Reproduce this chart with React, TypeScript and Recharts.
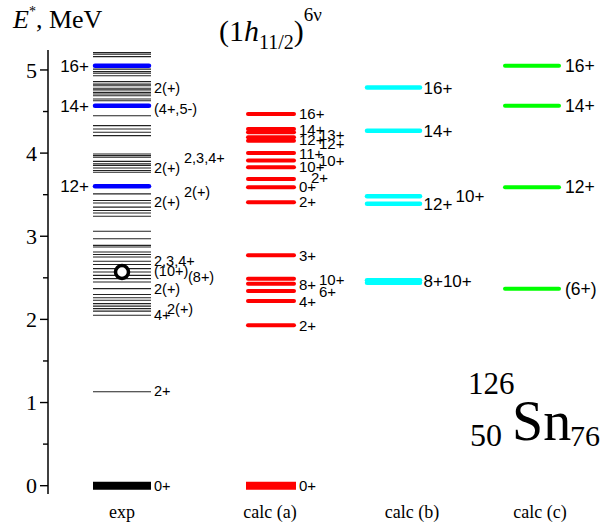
import { ScatterChart, Scatter, XAxis, YAxis } from "recharts";

// column names and where they sit on the x scale
const columns = ["exp", "calc (a)", "calc (b)", "calc (c)"];
const columnLabelPos = [0.74, 2.22, 3.64, 4.92];
const columnPos = [0.74, 2.23, 3.455, 4.84];

// experimental levels, MeV
const expLevels = [
  5.21, 5.19, 5.16, 5.01, 4.98, 4.96, 4.93, 4.86, 4.83, 4.81, 4.78, 4.76, 4.73,
  4.71, 4.69, 4.65, 4.63, 4.45, 4.33, 4.29, 4.25, 4.21, 3.99, 3.97, 3.95, 3.9,
  3.87, 3.85, 3.82, 3.79, 3.77, 3.51, 3.43, 3.4, 3.35, 3.31, 3.28, 3.24, 3.06,
  2.97, 2.89, 2.87, 2.81, 2.78, 2.75, 2.7, 2.66, 2.61, 2.57, 2.53, 2.49, 2.45,
  2.37, 2.3, 2.26, 2.23, 2.19, 2.16, 2.13, 2.1, 2.05, 1.13,
];
const expBand = [5.05, 4.57, 3.6];
const expBandLabels = ["16+", "14+", "12+"];
const expGround = [0];
const expIsomer = [2.57];
// [text, energy, slot]
const expLabels: [string, number, number][] = [
  ["2(+)", 4.79, 0],
  ["(4+,5-)", 4.53, 0],
  ["2(+)", 3.82, 0],
  ["2,3,4+", 3.94, 3],
  ["2(+)", 3.42, 0],
  ["2(+)", 3.53, 3],
  ["2,3,4+", 2.71, 0],
  ["(10+)", 2.58, 0],
  ["(8+)", 2.51, 2],
  ["2(+)", 2.37, 0],
  ["4+", 2.05, 0],
  ["2(+)", 2.13, 1],
  ["2+", 1.14, 0],
  ["0+", 0, 0],
];

// calc (a)
const calcA = [4.47, 4.29, 4.25, 4.19, 4.15, 4.0, 3.91, 3.83, 3.69, 3.59, 3.41, 2.77, 2.49, 2.43, 2.34, 2.22, 1.93];
const calcAGround = [0];
const calcALabels: [string, number, number][] = [
  ["16+", 4.47, 0],
  ["14+", 4.28, 0],
  ["13+", 4.22, 2],
  ["12+", 4.16, 0],
  ["12+", 4.11, 2],
  ["11+", 4.0, 0],
  ["10+", 3.91, 2],
  ["10+", 3.84, 0],
  ["2+", 3.7, 1],
  ["0+", 3.6, 0],
  ["2+", 3.42, 0],
  ["3+", 2.77, 0],
  ["10+", 2.48, 2],
  ["8+", 2.42, 0],
  ["6+", 2.34, 2],
  ["4+", 2.22, 0],
  ["2+", 1.93, 0],
  ["0+", 0, 0],
];

// calc (b)
const calcB = [4.79, 4.27, 3.48, 3.39, 2.47, 2.44];
const calcBLabels: [string, number, number][] = [
  ["16+", 4.79, 0],
  ["14+", 4.27, 0],
  ["12+", 3.39, 0],
  ["10+", 3.49, 1],
  ["8+10+", 2.46, 0],
];

// calc (c)
const calcC = [5.05, 4.57, 3.59, 2.37];
const calcCLabels: [string, number, number][] = [
  ["16+", 5.05, 0],
  ["14+", 4.57, 0],
  ["12+", 3.59, 0],
  ["(6+)", 2.37, 0],
];

const yTicks = [0, 0.5, 1, 1.5, 2, 2.5, 3, 3.5, 4, 4.5, 5];

const SANS = "'Liberation Sans', Arial, sans-serif";
const SERIF = "'Liberation Serif', 'Times New Roman', serif";

const pts = (col: number, es: number[]) => es.map((e) => ({ x: columnPos[col], e }));
const lbls = (col: number, ls: [string, number, number][]) =>
  ls.map(([t, e, s]) => ({ x: columnPos[col], e, t, s }));

const level =
  (half: number, color: string, width: number, cap: "round" | "butt" = "round") =>
  (p: any) => (
    <line
      x1={p.cx - half}
      x2={p.cx + half}
      y1={p.cy}
      y2={p.cy}
      stroke={color}
      strokeWidth={width}
      strokeLinecap={cap}
    />
  );

const label =
  (slots: number[], size: number, anchor: "start" | "end" = "start") =>
  (p: any) => (
    <text
      x={p.cx + slots[p.payload.s]}
      y={p.cy}
      dy="0.36em"
      textAnchor={anchor}
      fontFamily={SANS}
      fontSize={size}
      fill="#000"
    >
      {p.payload.t}
    </text>
  );

const YTick = (p: any) => {
  const v = p.payload.value;
  const major = Number.isInteger(v);
  return (
    <g>
      <line x1={p.x - (major ? 8 : 5)} x2={p.x} y1={p.y} y2={p.y} stroke="#000" strokeWidth={1.4} />
      {major && (
        <text x={p.x - 11} y={p.y} dy="0.35em" textAnchor="end" fontFamily={SERIF} fontSize={22} fill="#000">
          {v}
        </text>
      )}
    </g>
  );
};

const XTick = (p: any) => {
  const i = columnLabelPos.indexOf(p.payload.value);
  return (
    <text x={p.x} y={p.y} dy={16} textAnchor="middle" fontFamily={SERIF} fontSize={18} fill="#000">
      {columns[i]}
    </text>
  );
};

export default function App() {
  return (
    <div style={{ position: "absolute", left: 0, top: 0, width: 613, height: 527, background: "#fff" }}>
      <ScatterChart width={613} height={527} margin={{ top: 50, right: 0, bottom: 0, left: 0 }}>
        <XAxis
          type="number"
          dataKey="x"
          domain={[0, 5.65]}
          ticks={columnLabelPos}
          interval={0}
          axisLine={false}
          tickLine={false}
          height={33}
          tick={<XTick />}
        />
        <YAxis
          type="number"
          dataKey="e"
          domain={[-0.1, 5.24]}
          allowDataOverflow
          ticks={yTicks}
          interval={0}
          width={48}
          tickSize={0}
          tickMargin={0}
          tickLine={false}
          axisLine={{ stroke: "#000", strokeWidth: 1.5 }}
          tick={<YTick />}
        />
        <Scatter data={pts(0, expLevels)} shape={level(29, "#222", 1.1, "butt")} isAnimationActive={false} />
        <Scatter data={pts(0, expGround)} shape={level(29, "#000", 8, "butt")} isAnimationActive={false} />
        <Scatter data={pts(0, expBand)} shape={level(27, "#0000ff", 4.5)} isAnimationActive={false} />
        <Scatter
          data={pts(0, expIsomer)}
          shape={(p: any) => <circle cx={p.cx} cy={p.cy} r={6.5} fill="#fff" stroke="#000" strokeWidth={3.5} />}
          isAnimationActive={false}
        />
        <Scatter
          data={expBand.map((e, i) => ({ x: columnPos[0], e, t: expBandLabels[i], s: 0 }))}
          shape={label([-33], 17, "end")}
          isAnimationActive={false}
        />
        <Scatter data={lbls(0, expLabels)} shape={label([32, 45, 66, 62], 14.5)} isAnimationActive={false} />

        <Scatter data={pts(1, calcA)} shape={level(23, "#ff0000", 4)} isAnimationActive={false} />
        <Scatter data={pts(1, calcAGround)} shape={level(25, "#ff0000", 8, "butt")} isAnimationActive={false} />
        <Scatter data={lbls(1, calcALabels)} shape={label([28, 40, 48], 15)} isAnimationActive={false} />

        <Scatter data={pts(2, calcB)} shape={level(26.5, "#00ffff", 4.5)} isAnimationActive={false} />
        <Scatter data={lbls(2, calcBLabels)} shape={label([30, 62], 17)} isAnimationActive={false} />

        <Scatter data={pts(3, calcC)} shape={level(27, "#00ff00", 4)} isAnimationActive={false} />
        <Scatter data={lbls(3, calcCLabels)} shape={label([33], 17.5)} isAnimationActive={false} />
      </ScatterChart>

      <svg
        width={613}
        height={527}
        style={{ position: "absolute", left: 0, top: 0, pointerEvents: "none" }}
      >
        <text x={13} y={28} fontFamily={SERIF} fontSize={26} fill="#000">
          <tspan fontStyle="italic">E</tspan>
          <tspan fontSize={14} dy={-12}>*</tspan>
          <tspan dy={12}>, MeV</tspan>
        </text>
        <text x={219} y={41} fontFamily={SERIF} fontSize={30} fill="#000">
          (1<tspan fontStyle="italic">h</tspan>
          <tspan fontSize={20} dy={8}>11/2</tspan>
          <tspan dy={-8}>)</tspan>
          <tspan fontSize={19} dy={-20}>6ν</tspan>
        </text>
        <text x={468} y={394} fontFamily={SERIF} fontSize={31} fill="#000">126</text>
        <text x={470} y={446} fontFamily={SERIF} fontSize={32} fill="#000">50</text>
        <text x={512} y={440} fontFamily={SERIF} fontSize={56} fill="#000">Sn</text>
        <text x={570} y={446} fontFamily={SERIF} fontSize={30} fill="#000">76</text>
      </svg>
    </div>
  );
}
